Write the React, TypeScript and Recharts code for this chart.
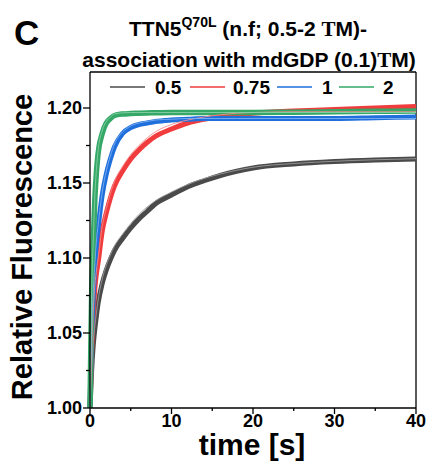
import React from 'react';
import { LineChart, Line, XAxis, YAxis, ReferenceLine } from 'recharts';

// time points (s)
const times = [0, 0.1, 0.2, 0.4, 0.6, 0.8, 1, 1.5, 2, 2.5, 3, 4, 5, 6, 7, 8, 10, 12, 14, 16, 18, 20, 25, 30, 35, 40];

// measured traces (relative fluorescence)
const c05 = [1.0, 1.012, 1.025, 1.042, 1.053, 1.062, 1.07, 1.083, 1.092, 1.099, 1.105, 1.113, 1.12, 1.126, 1.131, 1.136, 1.142, 1.1475, 1.1515, 1.155, 1.1578, 1.16, 1.1627, 1.1643, 1.1653, 1.166];
const c075 = [1.0, 1.02, 1.038, 1.064, 1.08, 1.09, 1.097, 1.118, 1.13, 1.14, 1.148, 1.158, 1.166, 1.172, 1.177, 1.181, 1.186, 1.19, 1.1925, 1.1943, 1.1955, 1.1965, 1.198, 1.199, 1.2, 1.201];
const c1 = [1.0, 1.025, 1.048, 1.075, 1.095, 1.11, 1.12, 1.142, 1.156, 1.166, 1.174, 1.183, 1.187, 1.189, 1.19, 1.191, 1.192, 1.1925, 1.193, 1.193, 1.193, 1.193, 1.193, 1.193, 1.1935, 1.194];
const c2 = [1.0, 1.04, 1.075, 1.11, 1.14, 1.158, 1.17, 1.183, 1.19, 1.193, 1.195, 1.196, 1.1963, 1.1965, 1.1967, 1.1968, 1.197, 1.197, 1.197, 1.197, 1.197, 1.197, 1.1972, 1.1975, 1.1978, 1.198];

// fitted curves
const fit05 = [1.0, 1.013, 1.026, 1.044, 1.055, 1.064, 1.072, 1.086, 1.095, 1.102, 1.108, 1.116, 1.123, 1.129, 1.134, 1.138, 1.144, 1.149, 1.153, 1.156, 1.1585, 1.1605, 1.163, 1.1645, 1.1655, 1.1662];
const fit075 = [1.0, 1.021, 1.039, 1.065, 1.082, 1.092, 1.1, 1.121, 1.133, 1.143, 1.151, 1.161, 1.169, 1.175, 1.18, 1.184, 1.189, 1.192, 1.194, 1.1955, 1.1965, 1.197, 1.1975, 1.1975, 1.1975, 1.1975];
const fit1 = [1.0, 1.026, 1.049, 1.077, 1.097, 1.112, 1.122, 1.144, 1.158, 1.168, 1.176, 1.184, 1.188, 1.19, 1.191, 1.192, 1.1925, 1.193, 1.193, 1.193, 1.193, 1.193, 1.193, 1.193, 1.193, 1.193];
const fit2 = [1.0, 1.041, 1.076, 1.112, 1.142, 1.16, 1.172, 1.185, 1.191, 1.194, 1.196, 1.1968, 1.197, 1.197, 1.197, 1.197, 1.197, 1.197, 1.197, 1.197, 1.197, 1.197, 1.197, 1.197, 1.197, 1.197];

const seriesNames = ['0.5', '0.75', '1', '2'];
const seriesColors = ['#4a4a4a', '#f03c3c', '#1f6fdc', '#35a867'];
const fitColors = ['#9a9a9a', '#f58a8a', '#7fb0ef', '#86cfa6'];

const xTicks = [0, 5, 10, 15, 20, 25, 30, 35, 40];
const yTicks = [1.0, 1.025, 1.05, 1.075, 1.1, 1.125, 1.15, 1.175, 1.2];

const data = times.map((t, i) => ({
  t,
  s0: c05[i], s1: c075[i], s2: c1[i], s3: c2[i],
  f0: fit05[i], f1: fit075[i], f2: fit1[i], f3: fit2[i],
}));

const font = '"Liberation Sans", Arial, sans-serif';

const YTick = (props: any) => {
  const { x, y, payload } = props;
  const v = payload.value;
  const major = Math.abs(Math.round(v * 20) - v * 20) < 1e-6;
  const ax = x + 8;
  return (
    <g>
      <line x1={ax - (major ? 7 : 4)} x2={ax} y1={y} y2={y} stroke="#000" strokeWidth={1.3} />
      {major && (
        <text x={x} y={y} dy="0.355em" textAnchor="end" fontFamily={font} fontWeight="bold" fontSize={18} fill="#000">
          {v.toFixed(2)}
        </text>
      )}
    </g>
  );
};

const XTick = (props: any) => {
  const { x, y, payload } = props;
  const v = payload.value;
  const major = v % 10 === 0;
  const ay = y - 6;
  return (
    <g>
      <line x1={x} x2={x} y1={ay} y2={ay + (major ? 6 : 3)} stroke="#000" strokeWidth={1.3} />
      {major && (
        <text x={x} y={y} dy="0.71em" textAnchor="middle" fontFamily={font} fontWeight="bold" fontSize={18} fill="#000">
          {v}
        </text>
      )}
    </g>
  );
};

const legendPos = [
  { lx: 110, tx: 155 },
  { lx: 190, tx: 233 },
  { lx: 277, tx: 322 },
  { lx: 339, tx: 383 },
];

export default function App() {
  return (
    <div style={{ position: 'absolute', left: 0, top: 0, width: 429, height: 463, background: '#fff' }}>
      <LineChart width={429} height={463} data={data} margin={{ top: 72, right: 13, bottom: 25, left: 0 }}>
        <XAxis
          dataKey="t"
          type="number"
          domain={[0, 40]}
          ticks={xTicks}
          tick={<XTick />}
          tickLine={false}
          tickSize={6}
          tickMargin={0}
          height={30}
          axisLine={{ stroke: '#000', strokeWidth: 1.3 }}
          interval={0}
        />
        <YAxis
          type="number"
          domain={[1.0, 1.224]}
          ticks={yTicks}
          tick={<YTick />}
          tickLine={false}
          tickSize={7}
          tickMargin={1}
          width={90}
          axisLine={{ stroke: '#000', strokeWidth: 1.3 }}
          interval={0}
          allowDataOverflow
        />
        <ReferenceLine y={1.224} stroke="#000" strokeWidth={1.3} />
        <ReferenceLine x={40} stroke="#000" strokeWidth={1.3} />
        {[0, 1, 2, 3].map((i) => (
          <Line
            key={'s' + i}
            dataKey={'s' + i}
            type="monotone"
            stroke={seriesColors[i]}
            strokeWidth={i === 3 ? 5.5 : 5}
            dot={false}
            isAnimationActive={false}
          />
        ))}
        {[0, 1, 2, 3].map((i) => (
          <Line
            key={'f' + i}
            dataKey={'f' + i}
            type="monotone"
            stroke={fitColors[i]}
            strokeWidth={0.9}
            dot={false}
            isAnimationActive={false}
          />
        ))}
      </LineChart>
      <svg width={429} height={463} style={{ position: 'absolute', left: 0, top: 0, pointerEvents: 'none' }}>
        <text x={14} y={45} fontFamily={font} fontWeight="bold" fontSize={35}>C</text>
        <text x={248} y={36} textAnchor="middle" fontFamily={font} fontWeight="bold" fontSize={21}>
          TTN5
          <tspan fontSize={14} dy={-9}>Q70L</tspan>
          <tspan dy={9}> (n.f; 0.5-2 </tspan>
          <tspan fontFamily='"Liberation Serif", serif'>T</tspan>
          <tspan>M)-</tspan>
        </text>
        <text x={249} y={67} textAnchor="middle" fontFamily={font} fontWeight="bold" fontSize={21}>
          association with mdGDP (0.1)
          <tspan fontFamily='"Liberation Serif", serif'>T</tspan>
          <tspan>M)</tspan>
        </text>
        {seriesNames.map((n, i) => (
          <g key={n}>
            <line x1={legendPos[i].lx} x2={legendPos[i].lx + 35} y1={87} y2={87} stroke={seriesColors[i]} strokeWidth={1.6} />
            <text x={legendPos[i].tx} y={94} fontFamily={font} fontWeight="bold" fontSize={19}>{n}</text>
          </g>
        ))}
        <text
          transform="translate(32,247) rotate(-90)"
          textAnchor="middle"
          fontFamily={font}
          fontWeight="bold"
          fontSize={29}
        >
          Relative Fluorescence
        </text>
        <text x={252} y={455} textAnchor="middle" fontFamily={font} fontWeight="bold" fontSize={30}>time [s]</text>
      </svg>
    </div>
  );
}
